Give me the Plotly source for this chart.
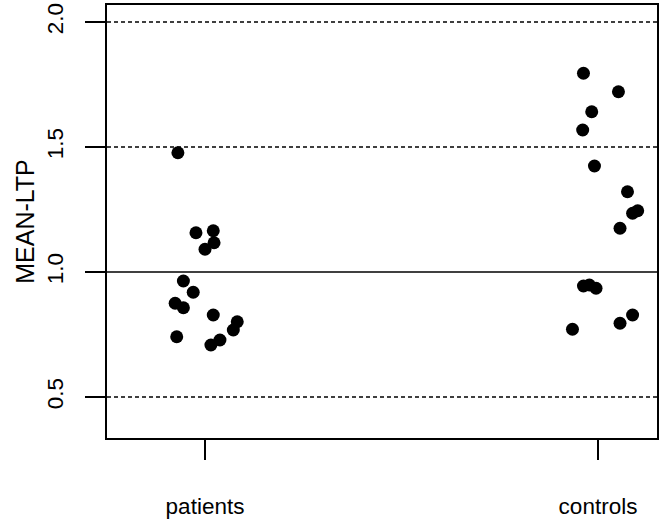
import plotly.graph_objects as go

categories = ["patients", "controls"]

# patients: jittered x position (group 1 + jitter) and MEAN-LTP values
patients_x = [0.931, 0.977, 1.021, 1.023, 1.000, 0.945, 0.970, 0.924, 0.945,
              1.021, 1.082, 1.072, 0.928, 1.038, 1.015]
patients_y = [1.477, 1.157, 1.165, 1.117, 1.091, 0.964, 0.919, 0.875, 0.857,
              0.828, 0.801, 0.768, 0.741, 0.728, 0.708]

# controls: jittered x position (group 2 + jitter) and MEAN-LTP values
controls_x = [1.963, 2.052, 1.984, 1.961, 1.991, 2.075, 2.101, 2.088, 2.056,
              1.963, 1.978, 1.995, 2.088, 2.056, 1.935]
controls_y = [1.795, 1.721, 1.641, 1.568, 1.424, 1.321, 1.245, 1.235, 1.175,
              0.944, 0.948, 0.935, 0.828, 0.795, 0.771]

dotted_lines = [0.5, 1.5, 2.0]
solid_lines = [1.0]
y_ticks = [0.5, 1.0, 1.5, 2.0]
y_tick_labels = ["0.5", "1.0", "1.5", "2.0"]

FONT = "Liberation Sans, Arial, Helvetica, sans-serif"

fig = go.Figure()
fig.add_trace(go.Scatter(x=patients_x, y=patients_y, mode="markers",
                         marker=dict(color="black", size=13), name=categories[0],
                         showlegend=False))
fig.add_trace(go.Scatter(x=controls_x, y=controls_y, mode="markers",
                         marker=dict(color="black", size=13), name=categories[1],
                         showlegend=False))

for v in dotted_lines:
    fig.add_shape(type="line", xref="paper", x0=0, x1=1, yref="y", y0=v, y1=v,
                  line=dict(color="black", width=1.5, dash="4px,3px"), layer="below")
for v in solid_lines:
    fig.add_shape(type="line", xref="paper", x0=0, x1=1, yref="y", y0=v, y1=v,
                  line=dict(color="black", width=1.5), layer="below")

fig.update_layout(
    width=666, height=526,
    margin=dict(l=107, r=9, t=5, b=88),
    paper_bgcolor="white", plot_bgcolor="white",
    font=dict(family=FONT, size=20.5, color="black"),
    xaxis=dict(range=[0.7506, 2.1501], tickvals=[1, 2], ticktext=categories,
               automargin=False,
               tickfont=dict(family=FONT, size=22.5, color="black"),
               showgrid=False, zeroline=False, showline=True, mirror=True,
               linecolor="black", linewidth=1.5, ticks="outside", ticklen=20,
               tickwidth=1.5, tickcolor="black", ticklabelstandoff=27),
    yaxis=dict(range=[0.336, 2.068], tickvals=y_ticks, ticktext=y_tick_labels,
               automargin=False,
               tickfont=dict(family=FONT, size=22.5, color="black"),
               tickangle=-90, showgrid=False, zeroline=False, showline=True,
               mirror=True, linecolor="black", linewidth=1.5, ticks="outside",
               ticklen=20, tickwidth=1.5, tickcolor="black", ticklabelstandoff=13,
               title=dict(text="MEAN-LTP", standoff=2)),
)

fig.write_html("out.html",
               config={"displayModeBar": False},
               post_script="document.body.style.margin='0px';document.body.style.overflow='hidden';")
